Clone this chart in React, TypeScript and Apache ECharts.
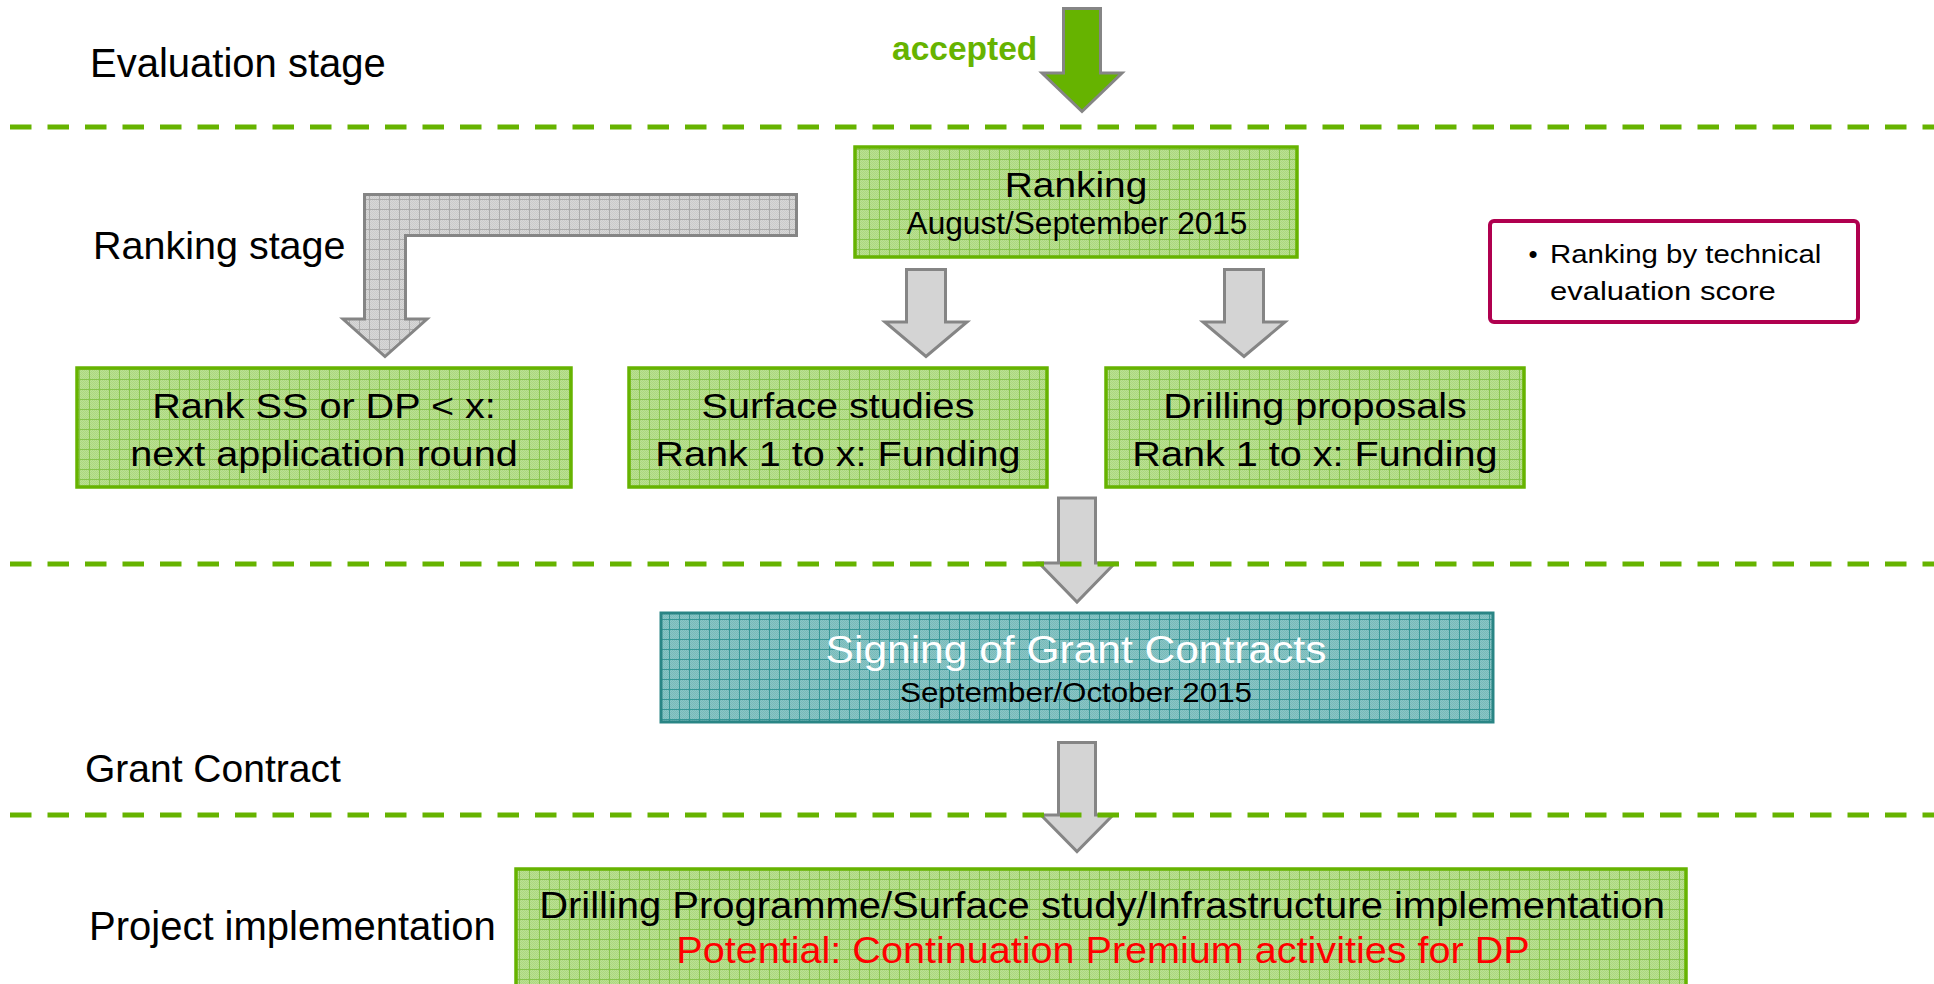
import React, { useEffect, useRef } from "react";
import * as echarts from "echarts";

// ---- content ----
const stageLabels = ["Evaluation stage", "Ranking stage", "Grant Contract", "Project implementation"];
const acceptedLabel = "accepted";
const rankingLines = ["Ranking", "August/September 2015"];
const outcomeBoxes = [
  ["Rank SS or DP < x:", "next application round"],
  ["Surface studies", "Rank 1 to x: Funding"],
  ["Drilling proposals", "Rank 1 to x: Funding"],
];
const noteLines = ["Ranking by technical", "evaluation score"];
const contractLines = ["Signing of Grant Contracts", "September/October 2015"];
const implementationLines = [
  "Drilling Programme/Surface study/Infrastructure implementation",
  "Potential: Continuation Premium activities for DP",
];

// ---- layout ----
const W = 1934;
const H = 984;
const FONT = '"Liberation Sans", Arial, Helvetica, sans-serif';
const GREEN = "#66b300";
const ARROW_STROKE = "#858585";
const stageLayout = [
  { x: 90, base: 77, fs: 40 },
  { x: 93, base: 259, fs: 39.5 },
  { x: 85, base: 782, fs: 39 },
  { x: 89, base: 940, fs: 40 },
];
const dashedY = [127, 564, 815];
const outcomeLayout = [
  { x0: 77, x1: 571 },
  { x0: 629, x1: 1047 },
  { x0: 1106, x1: 1524 },
];

function txt(x: number, base: number, text: string, fs: number, o: any = {}) {
  const align = o.align || "center";
  return {
    type: "text",
    x,
    y: base - 0.35 * fs,
    scaleX: o.sx || 1,
    z: 20,
    style: {
      x: 0,
      y: 0,
      text,
      fill: o.color || "#000",
      font: `${o.bold ? "bold " : ""}${fs}px ${FONT}`,
      align,
      textAlign: align,
      verticalAlign: "middle",
      textVerticalAlign: "middle",
    },
  };
}

function makePattern(base: string, dot: string, grid: string, size = 10) {
  const c = document.createElement("canvas");
  c.width = size;
  c.height = size;
  const g = c.getContext("2d")!;
  g.fillStyle = base;
  g.fillRect(0, 0, size, size);
  g.fillStyle = dot;
  for (let i = 0; i < size; i++)
    for (let j = 0; j < size; j++) if ((i + j) % 2 === 0) g.fillRect(i, j, 1, 1);
  g.fillStyle = grid;
  g.fillRect(size - 1, 0, 1, size);
  g.fillRect(0, size - 1, size, 1);
  return { image: c, repeat: "repeat" };
}

function downArrow(cx: number, top: number, headY: number, tip: number, s: number, h: number, fill: any) {
  return {
    type: "polygon",
    z: 5,
    shape: {
      points: [
        [cx - s, top],
        [cx + s, top],
        [cx + s, headY],
        [cx + h, headY],
        [cx, tip],
        [cx - h, headY],
        [cx - s, headY],
      ],
    },
    style: { fill, stroke: ARROW_STROKE, lineWidth: 3, lineJoin: "miter" },
  };
}

function box(x0: number, y0: number, x1: number, y1: number, fill: any, stroke: string, lw: number) {
  return {
    type: "rect",
    z: 3,
    shape: { x: x0, y: y0, width: x1 - x0, height: y1 - y0 },
    style: { fill, stroke, lineWidth: lw },
  };
}

export default function App() {
  const ref = useRef<HTMLDivElement>(null);
  useEffect(() => {
    document.body.style.margin = "0";
    document.body.style.overflow = "hidden";
    const chart = echarts.init(ref.current!, null, { renderer: "svg" });
    const greenPat = makePattern("#bbe193", "#acd77f", "#88c44e");
    const grayPat = makePattern("#d8d8d8", "#cbcbcb", "#ababab");
    const tealPat = makePattern("#8ac6c6", "#78b9b9", "#389696");

    const els: any[] = [];

    // stage labels
    stageLabels.forEach((s, i) => {
      const l = stageLayout[i];
      els.push(txt(l.x, l.base, s, l.fs, { align: "left" }));
    });

    // accepted arrow
    els.push(downArrow(1082, 8.5, 73, 111.5, 18.5, 40, GREEN));
    els.push(txt(892, 60, acceptedLabel, 33.5, { align: "left", bold: true, color: GREEN }));

    // ranking box
    els.push(box(855, 147, 1297, 257, greenPat, GREEN, 3.5));
    els.push(txt(1076, 197, rankingLines[0], 35, { sx: 1.11 }));
    els.push(txt(1077, 234, rankingLines[1], 31, { sx: 1.02 }));

    // L arrow
    els.push({
      type: "polygon",
      z: 5,
      shape: {
        points: [
          [364.5, 194.5],
          [796.5, 194.5],
          [796.5, 235.5],
          [405.5, 235.5],
          [405.5, 319],
          [427, 319],
          [385, 356.5],
          [343, 319],
          [364.5, 319],
        ],
      },
      style: { fill: grayPat, stroke: ARROW_STROKE, lineWidth: 3 },
    });

    // arrows below ranking
    els.push(downArrow(926, 269.5, 322, 356.5, 19.5, 41, "#d4d4d4"));
    els.push(downArrow(1244, 269.5, 322, 356.5, 19.5, 41, "#d4d4d4"));

    // note box
    els.push({
      type: "rect",
      z: 3,
      shape: { x: 1490, y: 221, width: 368, height: 101, r: 4 },
      style: { fill: "#ffffff", stroke: "#b0004f", lineWidth: 4 },
    });
    els.push(txt(1533, 263, "\u2022", 26, { align: "center" }));
    els.push(txt(1550, 263, noteLines[0], 26.5, { align: "left", sx: 1.11 }));
    els.push(txt(1550, 300, noteLines[1], 26.5, { align: "left", sx: 1.17 }));

    // outcome boxes
    outcomeBoxes.forEach((lines, i) => {
      const l = outcomeLayout[i];
      els.push(box(l.x0, 368, l.x1, 487, greenPat, GREEN, 3.5));
      const cx = (l.x0 + l.x1) / 2;
      els.push(txt(cx, 418, lines[0], 36, { sx: 1.1 }));
      els.push(txt(cx, 466, lines[1], 36, { sx: 1.1 }));
    });

    // arrow to contract
    els.push(downArrow(1077, 498, 563, 602, 18.5, 38, "#d4d4d4"));

    // contract box
    els.push(box(661, 613, 1493, 722, tealPat, "#2a8585", 3));
    els.push(txt(1076, 663, contractLines[0], 39, { color: "#ffffff", sx: 1.09 }));
    els.push(txt(1076, 702, contractLines[1], 28, { sx: 1.12 }));

    // arrow to implementation
    els.push(downArrow(1077, 742.5, 815, 851.5, 18.5, 36, "#d4d4d4"));

    // implementation box
    els.push(box(516, 869, 1686, 1010, greenPat, GREEN, 3.5));
    els.push(txt(1102, 918, implementationLines[0], 37, { sx: 1.08 }));
    els.push(txt(1103, 963, implementationLines[1], 37, { sx: 1.07, color: "#ff0000" }));

    // dashed separators
    dashedY.forEach((y) => {
      els.push({
        type: "line",
        z: 30,
        shape: { x1: 10, y1: y, x2: W + 40, y2: y },
        style: { stroke: GREEN, lineWidth: 5, lineDash: [21.5, 16] },
      });
    });

    chart.setOption({
      animation: false,
      backgroundColor: "#ffffff",
      graphic: { elements: els },
    });
    return () => chart.dispose();
  }, []);
  return <div ref={ref} style={{ width: W, height: H }} />;
}
